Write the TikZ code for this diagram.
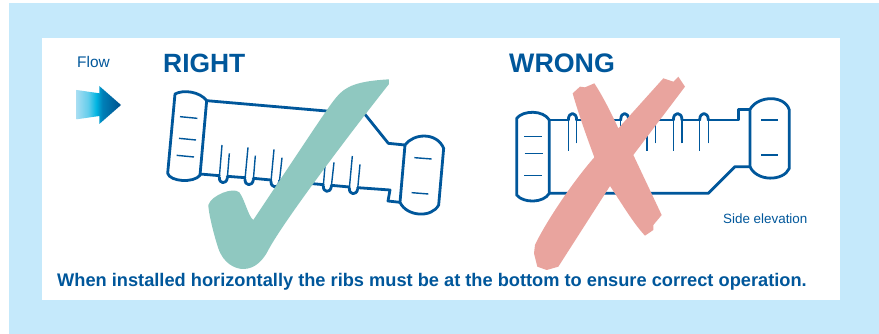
\documentclass[tikz,border=0pt]{standalone}
\usepackage{fontspec}
\setmainfont{Liberation Sans}
\definecolor{pipeblue}{HTML}{00579B}
\definecolor{bgblue}{HTML}{C5E9FB}
\definecolor{okteal}{HTML}{8FC8C0}
\definecolor{badred}{HTML}{E9A49E}
\definecolor{flowa}{HTML}{A5DDF2}
\definecolor{flowb}{HTML}{00B5E2}
\definecolor{flowc}{HTML}{0080B8}
\definecolor{flowd}{HTML}{00508C}
\pgfdeclarehorizontalshading{flowshade}{100bp}{color(0bp)=(flowa);color(25bp)=(flowa);color(38bp)=(flowa!60!flowb);color(47bp)=(flowb);color(54bp)=(flowc);color(75bp)=(flowd);color(100bp)=(flowd)}
\tikzset{
  px/.style={x=1pt,y=-1pt},
  zoomed/.style={x=0.33333pt,y=-0.33333pt},
  pipeline/.style={draw=pipeblue,line width=2.8pt,line join=round,line cap=round},
  ribline/.style={draw=pipeblue,line width=1.4pt,line cap=butt,line join=round},
  thinline/.style={draw=pipeblue,line width=1.4pt},
  label/.style={text=pipeblue,inner sep=0pt,anchor=base west},
}
\begin{document}
\begin{tikzpicture}[px]
\useasboundingbox (0,0) rectangle (879,334);
\fill[white] (0,0) rectangle (879,334);
\fill[bgblue] (9,3) rectangle (879,334);
\fill[white] (42,38) rectangle (840,300);
% flow
\node[label,font=\fontsize{15.4}{18}\selectfont] (flow) at (77,67.5) {Flow};
\shade[shading=flowshade] (76.7,90) -- (99.3,93.3) -- (99.3,86) -- (121,105) -- (99.3,124) -- (99.3,116) -- (76.7,119.3) -- cycle;
\node[label,font=\fontsize{26.4}{30}\selectfont\bfseries] (right) at (163,73) {RIGHT};
\node[label,font=\fontsize{26.8}{30}\selectfont\bfseries] (wrong) at (509,73) {WRONG};
\node[label,font=\fontsize{13.4}{16}\selectfont] (side) at (723,223) {Side elevation};
\node[label,font=\fontsize{18.23}{21}\selectfont\bfseries] (note) at (57,286) {When installed horizontally the ribs must be at the bottom to ensure correct operation.};
% RIGHT pipe
\begin{scope}[shift={(150,70)},zoomed]
\draw[pipeline] (170,92) .. controls (150,65) and (100,58) .. (75,72) -- (53,310) .. controls (60,335) and (130,340) .. (150,316) -- cycle;
\draw[pipeline] (765,225) .. controls (790,190) and (860,185) .. (881,235) -- (866,405) .. controls (845,445) and (770,440) .. (750,397) -- cycle;
\draw[pipeline] (170,92) -- (645,133) -- (715,220) -- (765,225);
\draw[pipeline] (150,312) -- (208,317);
\draw[pipeline] (232,319) -- (285,323);
\draw[pipeline] (310,325) -- (363,330);
\draw[pipeline] (388,332) -- (440,336);
\draw[pipeline] (466,339) -- (520,344);
\draw[pipeline] (544,346) -- (598,351);
\draw[pipeline] (623,353) -- (720,360) -- (714,393) -- (750,397);
\foreach \xa/\ya/\xb/\yb/\xc/\yc/\xd/\yd in {
  216/225/238/250/208/322/232/324,
  294/232/316/257/285/328/310/330,
  372/238/396/263/363/334/388/337,
  450/245/474/270/441/341/466/343,
  528/252/552/277/520/348/544/350,
  607/258/630/283/598/355/623/357}{
  \draw[ribline] (\xa,\ya) -- (\xc,\yc);
  \draw[ribline] (\xb,\yb) -- (\xd,\yd);
  \draw[pipeline] (\xc,\yc) .. controls (\xc-1,\yc+20) and (\xd-3,\yd+20) .. (\xd,\yd);
}
\draw[thinline] (90,140) -- (142,145);
\draw[thinline] (87,205) -- (138,210);
\draw[thinline] (80,256) -- (132,261);
\draw[thinline] (793,263) -- (845,267);
\draw[thinline] (785,368) -- (835,372);
\fill[okteal] (717,28) .. controls (650,32) and (600,40) .. (570,70) .. controls (545,95) and (530,120) .. (310,450)
  .. controls (295,440) and (285,390) .. (268,367) .. controls (250,350) and (185,375) .. (175,405)
  .. controls (175,425) and (190,490) .. (205,535) .. controls (220,580) and (255,597) .. (280,597)
  .. controls (315,597) and (340,570) .. (355,540) .. controls (400,455) and (600,190) .. (717,42) -- cycle;
\end{scope}
% WRONG pipe
\begin{scope}[shift={(500,70)},zoomed]
\draw[pipeline] (148,150) .. controls (130,120) and (70,120) .. (50,145) -- (50,375) .. controls (70,400) and (130,400) .. (148,370) -- cycle;
\draw[pipeline] (750,118) .. controls (775,75) and (855,75) .. (868,120) -- (868,295) .. controls (850,335) and (770,335) .. (750,290) -- cycle;
\draw[pipeline] (148,150) -- (205,150);
\draw[pipeline] (230,150) -- (283,150);
\draw[pipeline] (308,150) -- (362,150);
\draw[pipeline] (386,150) -- (441,150);
\draw[pipeline] (466,150) -- (520,150);
\draw[pipeline] (546,150) -- (599,150);
\draw[pipeline] (625,150) -- (716,150) -- (716,118) -- (750,118);
\draw[pipeline] (148,370) -- (625,370) -- (705,290) -- (750,290);
\foreach \xa/\xb/\ya/\yb in {205/230/243/220,283/308/243/220,362/386/243/220,441/466/243/220,520/546/243/220,599/625/243/220}{
  \draw[ribline] (\xa,\ya) -- (\xa,148);
  \draw[ribline] (\xb,\yb) -- (\xb,148);
  \draw[pipeline] (\xa,150) .. controls (\xa,124) and (\xb,124) .. (\xb,150);
}
\draw[thinline] (72,200) -- (125,200);
\draw[thinline] (74,251) -- (128,251);
\draw[thinline] (72,317) -- (125,317);
\draw[thinline] (784,150) -- (835,150);
\draw[thinline] (784,255) -- (835,255);
\fill[badred] (218,70) -- (240,50) -- (255,52) -- (283,40) .. controls (300,65) and (330,120) .. (355,175)
  -- (490,25) -- (520,35) -- (535,20) -- (555,50) -- (400,255) -- (485,435) -- (460,465) -- (460,480) -- (435,497)
  .. controls (400,460) and (365,400) .. (330,348) -- (175,590) -- (140,600) -- (112,590) -- (102,550) -- (105,525)
  .. controls (130,470) and (210,345) .. (283,262) .. controls (260,200) and (235,130) .. (218,70) -- cycle;
\end{scope}
\end{tikzpicture}
\end{document}
